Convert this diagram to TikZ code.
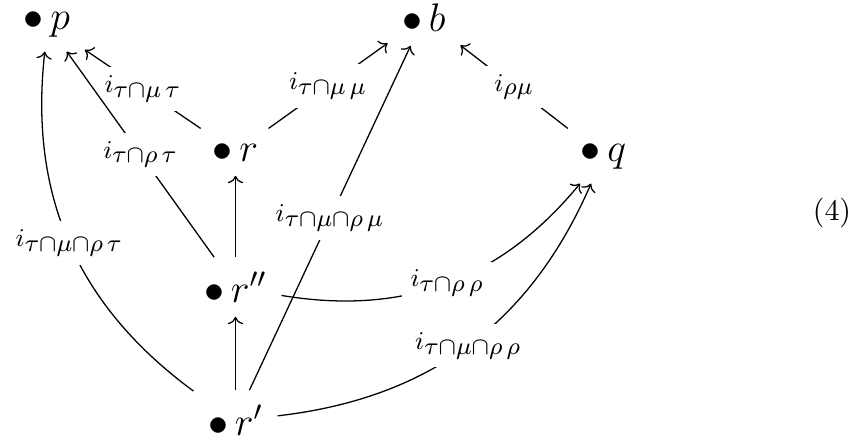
\documentclass[tikz,border=0pt]{standalone}
\usepackage{fix-cm}
\usepackage{amsmath}
\usetikzlibrary{arrows.meta}
\newcommand\ilab[1]{$i_{\text{\fontsize{8.6}{10}\selectfont$#1$}}$}
\begin{document}
\begin{tikzpicture}[x=0.35088pt,y=-0.35088pt,
  obj/.style={inner sep=5pt, font=\fontsize{14}{17}\selectfont, anchor=base},
  lab/.style={fill=white, inner sep=3pt, font=\fontsize{9}{11}\selectfont},
  arr/.style={-{Computer Modern Rightarrow}, line width=0.45pt}]
\useasboundingbox (0,0) rectangle (860,442);
\node[obj] (p) at (47,29) {$\bullet\,p$};
\node[obj] (b) at (424,31) {$\bullet\,b$};
\node[obj] (r) at (235.5,161) {$\bullet\,r$};
\node[obj] (q) at (603.5,161) {$\bullet\,q$};
\node[obj] (r2) at (235.5,302) {$\bullet\,r''$};
\node[obj] (r1) at (235.5,435) {$\bullet\,r'$};
\node[anchor=base, font=\fontsize{10.5}{12}\selectfont] (eq) at (832,220) {(4)};
\draw[arr] (r) -- node[lab]{\ilab{\tau{\cap}\mu\,\tau}} (p);
\draw[arr] (r) -- node[lab]{\ilab{\tau{\cap}\mu\,\mu}} (b);
\draw[arr] (q) -- node[lab]{\ilab{\rho\mu}} (b);
\draw[arr] (r2) -- node[lab]{\ilab{\tau{\cap}\rho\,\tau}} (p);
\draw[arr] (r2) -- (r);
\draw[arr] (r1) -- (r2);
\draw[arr] (r1) to[bend left=30] node[lab]{\ilab{\tau{\cap}\mu{\cap}\rho\,\tau}} (p);
\draw[arr] (r1) -- node[lab]{\ilab{\tau{\cap}\mu{\cap}\rho\,\mu}} (b);
\draw[arr] (r2) to[bend right=30] node[lab]{\ilab{\tau{\cap}\rho\,\rho}} (q);
\draw[arr] (r1) to[bend right=30] node[lab]{\ilab{\tau{\cap}\mu{\cap}\rho\,\rho}} (q);
\end{tikzpicture}
\end{document}
